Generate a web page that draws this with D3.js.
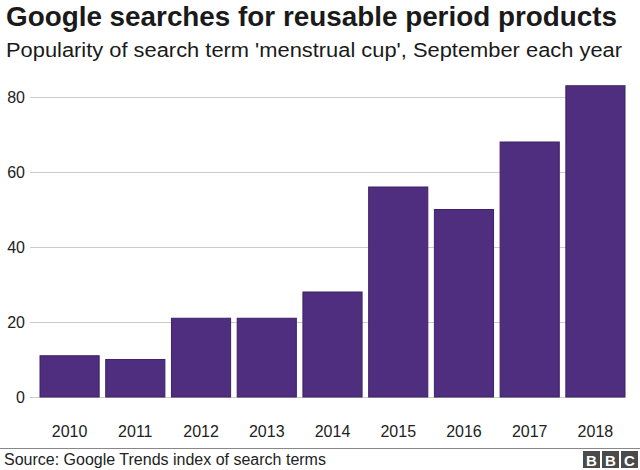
<!DOCTYPE html>
<html>
<head>
<meta charset="utf-8">
<script src="https://cdn.jsdelivr.net/npm/d3@7"></script>
<style>
  body { margin: 0; background: #fff; }
  svg { display: block; font-family: "Liberation Sans", Arial, Helvetica, sans-serif; }
</style>
</head>
<body>
<div id="chart"></div>
<script>
const years = ['2010', '2011', '2012', '2013', '2014', '2015', '2016', '2017', '2018']
const popularity = [11, 10, 21, 21, 28, 56, 50, 68, 83]
const yTicks = [0, 20, 40, 60, 80]

const width = 640
const height = 470

const svg = d3.select('#chart')
  .append('svg')
  .attr('width', width)
  .attr('height', height)

svg.append('text')
  .attr('x', 6)
  .attr('y', 26)
  .attr('font-size', 27)
  .attr('font-weight', 'bold')
  .attr('fill', '#1a1a1a')
  .attr('textLength', 611)
  .attr('lengthAdjust', 'spacingAndGlyphs')
  .text('Google searches for reusable period products')

svg.append('text')
  .attr('x', 6)
  .attr('y', 57)
  .attr('font-size', 20)
  .attr('fill', '#1a1a1a')
  .attr('textLength', 616)
  .attr('lengthAdjust', 'spacingAndGlyphs')
  .text("Popularity of search term 'menstrual cup', September each year")

const x = d3.scaleBand()
  .domain(years)
  .range([40, 625])
  .paddingInner(0.1)
  .paddingOuter(0)

const y = d3.scaleLinear()
  .domain([0, 80])
  .range([397, 97])

// gridlines
const yAxis = svg.append('g')
  .attr('transform', 'translate(30,0)')
  .call(d3.axisRight(y).tickValues(yTicks).tickSize(595).tickFormat(''))
yAxis.select('.domain').remove()
yAxis.selectAll('.tick line').attr('stroke', '#cccccc')

svg.append('g')
  .selectAll('text')
  .data(yTicks)
  .join('text')
  .attr('x', 25)
  .attr('y', d => y(d))
  .attr('dy', '0.36em')
  .attr('text-anchor', 'end')
  .attr('font-size', 16)
  .attr('fill', '#222')
  .text(d => d)

svg.append('g')
  .selectAll('rect')
  .data(popularity)
  .join('rect')
  .attr('x', (d, i) => x(years[i]))
  .attr('width', x.bandwidth())
  .attr('y', d => y(d))
  .attr('height', d => y(0) - y(d))
  .attr('fill', '#4f2d7f')
  .attr('stroke', '#3d2265')
  .attr('stroke-width', 1)

const xAxis = svg.append('g')
  .attr('transform', 'translate(0,' + y(0) + ')')
  .call(d3.axisBottom(x).tickSize(0).tickPadding(0))
xAxis.select('.domain').remove()
xAxis.selectAll('text')
  .attr('dy', null)
  .attr('y', 40)
  .attr('font-size', 16)
  .attr('fill', '#222')
  .attr('font-family', '"Liberation Sans", Arial, sans-serif')

// footer
svg.append('line')
  .attr('x1', 0).attr('x2', width)
  .attr('y1', 448.5).attr('y2', 448.5)
  .attr('stroke', '#888')
  .attr('stroke-width', 1)

svg.append('text')
  .attr('x', 4)
  .attr('y', 465)
  .attr('font-size', 16)
  .attr('fill', '#222')
  .text('Source: Google Trends index of search terms')

const logo = svg.append('g')
  .attr('transform', 'translate(583,451)')
logo.selectAll('rect')
  .data(['B', 'B', 'C'])
  .join('rect')
  .attr('x', (d, i) => i * 19)
  .attr('width', 17)
  .attr('height', 17)
  .attr('fill', '#4a4a4a')
logo.selectAll('text')
  .data(['B', 'B', 'C'])
  .join('text')
  .attr('x', (d, i) => i * 19 + 8.5)
  .attr('y', 14.5)
  .attr('text-anchor', 'middle')
  .attr('font-size', 15)
  .attr('font-weight', 'bold')
  .attr('fill', '#fff')
  .text(d => d)
</script>
</body>
</html>
